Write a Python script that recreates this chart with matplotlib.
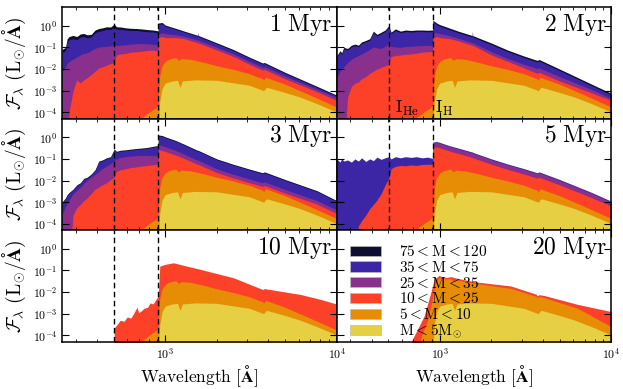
import numpy as np
import matplotlib
matplotlib.use("Agg")
import matplotlib.pyplot as plt
import matplotlib.patches as mpatches
from matplotlib.ticker import FuncFormatter, LogLocator

plt.rcParams["mathtext.fontset"] = "cm"
plt.rcParams["font.family"] = "serif"
plt.rcParams["font.serif"] = ["DejaVu Serif"]

# ── Data: log10 of the cumulative (stacked) flux ──
# wavelength grid (Angstrom) used by the massive-star layers, 1-5 Myr
lam_hi = [250, 262, 268, 275, 290, 305, 320, 335, 350, 370, 390, 410, 430, 455,
          480, 504, 520, 550, 590, 630, 680, 730, 790, 850, 911, 913, 960, 1000,
          1150, 1280, 1540, 1550, 1560, 2000, 2500, 3100, 3700, 3800, 5000, 7700,
          10000]

# 1 Myr
f1_tot = [-1.1, -1.0, -0.6, -0.5, -0.45, -0.5, -0.38, -0.36, -0.42, -0.4, -0.2, -0.13,
          -0.1, -0.05, -0.06, 0.07, -0.05, -0.06, -0.1, -0.12, -0.13, -0.15, -0.18, -0.2,
          -0.24, 0.12, 0.15, 0.03, -0.12, -0.24, -0.44, -0.44, -0.45, -0.79, -1.1, -1.45,
          -1.72, -1.7, -2.15, -2.8, -3.2]
f1_blue = [-1.25, -1.15, -0.75, -0.65, -0.6, -0.65, -0.52, -0.5, -0.56, -0.52, -0.32,
           -0.26, -0.22, -0.17, -0.18, -0.05, -0.16, -0.16, -0.2, -0.22, -0.22, -0.25,
           -0.28, -0.29, -0.32, 0.06, 0.09, -0.02, -0.17, -0.29, -0.49, -0.3, -0.5, -0.84,
           -1.15, -1.5, -1.77, -1.75, -2.2, -2.85, -3.25]
f1_purp = [-2.1, -1.9, -1.75, -1.65, -1.55, -1.45, -1.35, -1.28, -1.25, -1.15, -1.05,
           -0.98, -0.97, -0.95, -0.93, -0.88, -0.92, -0.9, -0.88, -0.85, -0.83, -0.82,
           -0.84, -0.86, -0.9, -0.38, -0.33, -0.37, -0.42, -0.48, -0.66, -0.66, -0.67,
           -1.0, -1.3, -1.65, -1.92, -1.9, -2.33, -2.95, -3.32]
f1_red = [-6, -6, -6, -4.0, -3.0, -2.5, -2.65, -2.5, -2.4, -2.25, -2.1, -1.95, -1.9,
          -1.82, -1.75, -1.7, -1.35, -1.3, -1.28, -1.22, -1.2, -1.18, -1.14, -1.13, -1.16,
          -0.55, -0.5, -0.55, -0.55, -0.59, -0.78, -0.78, -0.79, -1.12, -1.42, -1.78,
          -2.05, -2.02, -2.45, -3.05, -3.45]

# 2 Myr
f2_tot = [-1.4, -1.15, -1.25, -1.0, -1.05, -0.9, -0.85, -0.9, -0.75, -0.68, -0.6, -0.25,
          -0.4, -0.3, -0.2, 0.0, -0.3, -0.15, -0.25, -0.2, -0.22, -0.2, -0.2, -0.21, -0.2,
          0.25, 0.12, 0.05, -0.12, -0.25, -0.45, -0.45, -0.46, -0.8, -1.13, -1.4, -1.6,
          -1.56, -2.0, -2.7, -3.12]
f2_blue = [-1.47, -1.22, -1.32, -1.07, -1.12, -0.97, -0.92, -0.97, -0.82, -0.75, -0.67,
           -0.32, -0.47, -0.37, -0.27, -0.07, -0.37, -0.22, -0.32, -0.27, -0.29, -0.27,
           -0.27, -0.28, -0.27, 0.18, 0.05, -0.02, -0.19, -0.32, -0.52, -0.25, -0.53,
           -0.87, -1.2, -1.47, -1.67, -1.63, -2.07, -2.77, -3.19]
f2_purp = [-2.4, -2.1, -2.0, -1.9, -1.7, -1.55, -1.45, -1.38, -1.3, -1.2, -1.1, -0.98,
           -1.02, -1.05, -0.95, -0.85, -0.95, -0.98, -1.0, -0.96, -0.95, -0.93, -0.92,
           -0.91, -0.9, -0.32, -0.33, -0.36, -0.47, -0.58, -0.78, -0.78, -0.79, -1.2,
           -1.52, -1.78, -1.98, -1.95, -2.35, -2.95, -3.35]
f2_red = [-6, -6, -6, -6, -3.3, -2.8, -2.65, -2.6, -2.45, -2.35, -2.2, -2.1, -2.0, -1.92,
          -1.85, -1.78, -1.42, -1.38, -1.35, -1.32, -1.3, -1.27, -1.22, -1.2, -1.2, -0.55,
          -0.5, -0.55, -0.6, -0.7, -0.9, -0.9, -0.91, -1.35, -1.65, -1.95, -2.2, -2.15,
          -2.55, -3.1, -3.45]

# 3 Myr
f3_tot = [-3.0, -2.8, -2.65, -2.55, -2.4, -2.2, -2.1, -1.9, -1.85, -1.7, -1.5, -1.1,
          -1.05, -0.95, -0.9, -0.55, -0.65, -0.6, -0.58, -0.55, -0.52, -0.5, -0.47, -0.42,
          -0.38, 0.1, 0.08, 0.02, -0.15, -0.31, -0.6, -0.6, -0.61, -1.0, -1.25, -1.47,
          -1.64, -1.6, -1.95, -2.47, -2.92]
f3_blue = [-3.04, -2.84, -2.69, -2.59, -2.44, -2.24, -2.14, -1.94, -1.89, -1.74, -1.54,
           -1.14, -1.09, -0.99, -0.94, -0.59, -0.69, -0.64, -0.62, -0.59, -0.56, -0.54,
           -0.51, -0.46, -0.42, 0.06, 0.04, -0.02, -0.19, -0.35, -0.64, -0.64, -0.65,
           -1.04, -1.29, -1.51, -1.68, -1.64, -1.99, -2.51, -2.96]
f3_purp = [-3.6, -3.2, -3.05, -2.9, -2.62, -2.45, -2.32, -2.15, -2.0, -1.85, -1.72, -1.58,
           -1.45, -1.33, -1.22, -1.08, -1.0, -0.93, -0.9, -0.87, -0.85, -0.84, -0.84,
           -0.85, -0.85, -0.36, -0.39, -0.44, -0.61, -0.77, -1.06, -1.06, -1.07, -1.46,
           -1.71, -1.93, -2.1, -2.06, -2.41, -2.93, -3.35]
f3_red = [-6, -6, -6, -6, -3.6, -3.25, -3.1, -2.93, -2.8, -2.6, -2.4, -2.3, -2.2, -2.1,
          -1.95, -1.85, -1.58, -1.5, -1.45, -1.4, -1.37, -1.33, -1.3, -1.27, -1.24, -0.58,
          -0.61, -0.66, -0.82, -0.97, -1.25, -1.25, -1.26, -1.63, -1.88, -2.1, -2.27,
          -2.23, -2.58, -3.09, -3.52]

# 5 Myr (no 75-120 stars left: top layer is the 35-75 bin)
f5_blue = [-1.0, -1.15, -0.98, -1.1, -1.05, -1.15, -1.0, -1.1, -0.95, -1.12, -1.0, -1.08,
           -0.92, -1.02, -0.95, -0.9, -1.0, -0.9, -0.95, -0.9, -0.93, -0.9, -0.95, -0.92,
           -0.98, -0.22, -0.2, -0.24, -0.4, -0.5, -0.68, -0.68, -0.7, -1.0, -1.24, -1.45,
           -1.64, -1.6, -1.95, -2.55, -2.95]
f5_purp = [-6, -6, -6, -6, -6, -6, -6, -6, -6, -6, -6, -6, -6, -6, -6, -6, -6, -6, -6,
           -6, -6, -6, -6, -6, -6, -0.26, -0.24, -0.28, -0.44, -0.54, -0.72, -0.72, -0.74,
           -1.04, -1.28, -1.49, -1.68, -1.64, -1.99, -2.59, -2.99]
f5_red = [-6, -6, -6, -6, -6, -6, -6, -4.1, -3.85, -3.6, -3.3, -3.1, -2.9, -2.6, -2.2,
          -1.9, -1.45, -1.35, -1.3, -1.32, -1.28, -1.3, -1.26, -1.25, -1.24, -0.47, -0.45,
          -0.49, -0.65, -0.75, -0.93, -0.93, -0.95, -1.25, -1.49, -1.7, -1.89, -1.85,
          -2.2, -2.79, -3.18]

# 10 Myr: 10-25 bin is the top layer
lam10_red = [504, 505, 530, 546, 575, 600, 630, 653, 685, 700, 730, 750, 790, 817, 850,
             880, 911, 930, 1000, 1118, 1300, 1600, 2500, 3700, 3800, 6150, 8080, 10000]
f10_red = [-6, -3.65, -3.45, -3.3, -3.35, -3.15, -3.2, -3.0, -2.7, -2.95, -2.85, -2.75,
           -2.7, -2.5, -2.55, -2.35, -2.2, -0.8, -0.72, -0.65, -0.78, -0.95, -1.34, -1.88,
           -1.84, -2.11, -2.34, -2.55]

# 20 Myr
lam20_red = [676, 690, 741, 810, 886, 926, 991, 1060, 1160, 1270, 1518, 1660, 2600, 3650,
             3700, 3800, 4075, 6380, 10000]
f20_red = [-6, -4.2, -3.72, -3.11, -2.03, -1.42, -1.23, -1.34, -1.29, -1.37, -1.49, -1.54,
           -1.72, -2.1, -2.18, -2.12, -2.16, -2.57, -2.9]
lam20_org = [741, 775, 850, 900, 940, 991, 1060, 1160, 1200, 1240, 1270, 1518, 2600, 3650,
             3700, 3800, 4075, 6380, 10000]
f20_org = [-6, -4.1, -3.3, -2.4, -1.6, -1.33, -1.4, -1.38, -1.5, -1.42, -1.45, -1.57,
           -1.83, -2.2, -2.27, -2.2, -2.26, -2.75, -3.6]

# 5-10 Msun bin (same for 1-10 Myr)
lam_org = [650, 700, 760, 820, 880, 911, 913, 930, 960, 1000, 1050, 1150, 1200, 1240,
           1400, 1700, 2000, 2500, 3100, 3700, 3750, 3850, 5000, 7000, 10000]
f_org = [-6, -4.35, -4.15, -3.95, -3.8, -3.65, -3.2, -2.3, -1.85, -1.65, -1.55, -1.47,
         -1.6, -1.52, -1.55, -1.7, -1.85, -2.02, -2.22, -2.45, -2.52, -2.38, -2.7, -3.2,
         -3.75]

# M < 5 Msun (same for every age)
lam_yel = [911, 913, 930, 960, 1000, 1100, 1180, 1220, 1260, 1500, 2000, 3100, 3700, 3750,
           3900, 4900, 6100, 7700, 10000]
f_yel = [-6, -4.5, -3.5, -2.9, -2.65, -2.55, -2.52, -2.85, -2.55, -2.5, -2.52, -2.75,
         -2.98, -3.0, -2.84, -3.06, -3.29, -3.6, -3.98]

ages = ["1", "2", "3", "5", "10", "20"]
labels = [r"$75<\mathrm{M}<120$", r"$35<\mathrm{M}<75$", r"$25<\mathrm{M}<35$",
          r"$10<\mathrm{M}<25$", r"$5<\mathrm{M}<10$", r"$\mathrm{M}<5\mathrm{M}_{\odot}$"]

colors = plt.cm.CMRmap(np.linspace(0.05, 0.8, 6))

panels = [
    [(lam_hi, f1_tot), (lam_hi, f1_blue), (lam_hi, f1_purp), (lam_hi, f1_red),
     (lam_org, f_org), (lam_yel, f_yel)],
    [(lam_hi, f2_tot), (lam_hi, f2_blue), (lam_hi, f2_purp), (lam_hi, f2_red),
     (lam_org, f_org), (lam_yel, f_yel)],
    [(lam_hi, f3_tot), (lam_hi, f3_blue), (lam_hi, f3_purp), (lam_hi, f3_red),
     (lam_org, f_org), (lam_yel, f_yel)],
    [None, (lam_hi, f5_blue), (lam_hi, f5_purp), (lam_hi, f5_red),
     (lam_org, f_org), (lam_yel, f_yel)],
    [None, None, None, (lam10_red, f10_red), (lam_org, f_org), (lam_yel, f_yel)],
    [None, None, None, (lam20_red, f20_red), (lam20_org, f20_org), (lam_yel, f_yel)],
]

fig, axes = plt.subplots(3, 2, figsize=(6.23, 3.89), dpi=100, sharex=True, sharey=True)
fig.subplots_adjust(left=0.0995, right=0.981, top=0.981, bottom=0.121,
                    hspace=0, wspace=0)
axes = axes.flatten()

for i, ax in enumerate(axes):
    for layer, c in zip(panels[i], colors):
        if layer is None:
            continue
        lam, lf = layer
        ax.fill_between(lam, 10.0 ** np.array(lf), 1e-7, color=c, lw=0)
    if i < 5:
        for edge in (504, 912):
            ax.axvline(edge, color="k", ls="--", lw=1.0, dashes=(4, 2.5))
    ax.text(0.985, 0.96, r"$\mathrm{%s\ Myr}$" % ages[i], transform=ax.transAxes,
            ha="right", va="top", fontsize=17)
    ax.set_xscale("log")
    ax.set_yscale("log")
    ax.set_xlim(250, 1e4)
    ax.set_ylim(5e-5, 7)
    ax.yaxis.set_major_locator(LogLocator(base=10, numticks=12))
    ax.yaxis.set_major_formatter(FuncFormatter(lambda v, _: r"$10^{%d}$" % round(np.log10(v))))
    ax.xaxis.set_major_formatter(FuncFormatter(lambda v, _: r"$10^{%d}$" % round(np.log10(v))))
    ax.tick_params(which="both", direction="in", top=True, right=True, labelsize=8.5)
    ax.tick_params(which="major", length=5, width=0.8)
    ax.tick_params(which="minor", length=2.5, width=0.6)
    for s in ax.spines.values():
        s.set_linewidth(1.1)
    if i % 2 == 0:
        ax.set_ylabel(r"$\mathcal{F}_\lambda\ (\mathrm{L}_{\odot}/\mathbf{\AA})$",
                      fontsize=14, labelpad=3)
    if i >= 4:
        ax.set_xlabel(r"$\mathrm{Wavelength}\ [\mathbf{\AA}]$", fontsize=12.5, labelpad=1)

axes[1].text(545, 1.0e-4, r"$\mathrm{I_{He}}$", fontsize=13, va="baseline")
axes[1].text(935, 1.0e-4, r"$\mathrm{I_{H}}$", fontsize=13, va="baseline")

handles = [mpatches.Patch(facecolor=c, edgecolor="#bbbbbb", lw=0.5) for c in colors]
axes[5].legend(handles, labels, loc="upper left", frameon=False, fontsize=11,
               handlelength=2.0, handleheight=0.65, handletextpad=1.2,
               labelspacing=0.05, borderaxespad=0.5)

plt.savefig("out.png", dpi=100, facecolor="white")
